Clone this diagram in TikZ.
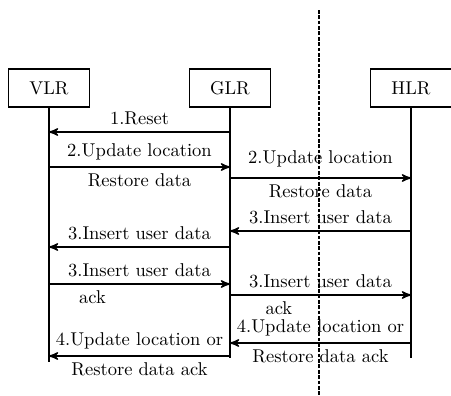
\documentclass[tikz,border=0pt]{standalone}
\usepackage{amsmath}
\usepackage{tikz}
\usetikzlibrary{arrows}
\tikzset{
	entity/.style={rectangle,draw,line width=0.8pt,minimum width=44pt,minimum height=20.5pt,font=\normalsize},
	lifeline/.style={line width=0.8pt},
	msg/.style={->,line width=0.8pt},
	split/.style={line width=0.8pt,dash pattern=on 2pt off 0.9pt}
}
\begin{document}
\begin{tikzpicture}[>=stealth',x=0.54pt,y=-0.54pt]
	\useasboundingbox (0,0) rectangle (451,396);
	% entities
	\node [entity] (vlr) at (49,88) {VLR};
	\node [entity] (glr) at (230,88) {GLR};
	\node [entity] (hlr) at (411,88) {HLR};
	% lifelines
	\coordinate (vend) at (49,362);
	\coordinate (gend) at (230,358);
	\coordinate (hend) at (411,358);
	\draw [lifeline] (vlr.south) -- (vend);
	\draw [lifeline] (glr.south) -- (gend);
	\draw [lifeline] (hlr.south) -- (hend);
	% border
	\coordinate (top) at (319,10);
	\coordinate (bot) at (319,396);
	\draw [split] (top) -- (bot);
	% points on the lifelines
	\coordinate (v1) at (49,132); \coordinate (g1) at (230,132);
	\coordinate (v2) at (49,167); \coordinate (g2) at (230,167);
	\coordinate (g3) at (230,178); \coordinate (h3) at (411,178);
	\coordinate (g4) at (230,231); \coordinate (h4) at (411,231);
	\coordinate (v5) at (49,247); \coordinate (g5) at (230,247);
	\coordinate (v6) at (49,284); \coordinate (g6) at (230,284);
	\coordinate (g7) at (230,295); \coordinate (h7) at (411,295);
	\coordinate (g8) at (230,343); \coordinate (h8) at (411,343);
	\coordinate (v9) at (49,356); \coordinate (g9) at (230,356);
	% messages
	\draw [msg] (g1) -- node[above] {1.Reset} (v1);
	\draw [msg] (v2) -- node[above] {2.Update location} node[below] {Restore data} (g2);
	\draw [msg] (g3) -- node[above=2pt] {2.Update location} node[below] {Restore data} (h3);
	\draw [msg] (h4) -- node[above] {3.Insert user data} (g4);
	\draw [msg] (g5) -- node[above] {3.Insert user data} (v5);
	\draw [msg] (v6) -- node[above] {3.Insert user data} node[below,pos=0.24] {ack} (g6);
	\draw [msg] (g7) -- node[above] {3.Insert user data} node[below,pos=0.27] {ack} (h7);
	\draw [msg] (h8) -- node[above] {4.Update location or} node[below] {Restore data ack} (g8);
	\draw [msg] (g9) -- node[above] {4.Update location or} node[below] {Restore data ack} (v9);
\end{tikzpicture}
\end{document}
